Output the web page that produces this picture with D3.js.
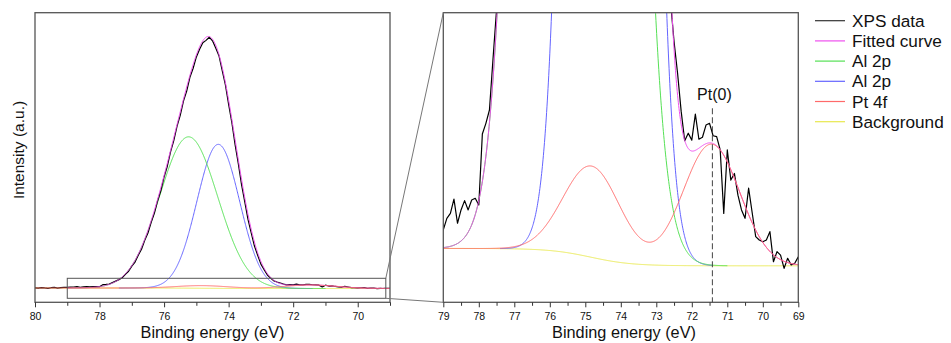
<!DOCTYPE html>
<html>
<head>
<meta charset="utf-8">
<script src="https://cdn.jsdelivr.net/npm/d3@7"></script>
<style>
  html, body { margin: 0; padding: 0; background: #fff; }
  svg { display: block; font-family: "Liberation Sans", Arial, Helvetica, sans-serif; }
</style>
</head>
<body>
<svg id="chart" width="951" height="343"></svg>
<script>
// Al 2p / Pt 4f XPS region: measured spectrum (eV, counts)
const bindingEnergy = [
  80.0,79.9,79.8,79.7,79.6,79.5,79.4,79.3,79.2,79.1,
  79.0,78.9,78.8,78.7,78.6,78.5,78.4,78.3,78.2,78.1,
  78.0,77.9,77.8,77.7,77.6,77.5,77.4,77.3,77.2,77.1,
  77.0,76.9,76.8,76.7,76.6,76.5,76.4,76.3,76.2,76.1,
  76.0,75.9,75.8,75.7,75.6,75.5,75.4,75.3,75.2,75.1,
  75.0,74.9,74.8,74.7,74.6,74.5,74.4,74.3,74.2,74.1,
  74.0,73.9,73.8,73.7,73.6,73.5,73.4,73.3,73.2,73.1,
  73.0,72.9,72.8,72.7,72.6,72.5,72.4,72.3,72.2,72.1,
  72.0,71.9,71.8,71.7,71.6,71.5,71.4,71.3,71.2,71.1,
  71.0,70.9,70.8,70.7,70.6,70.5,70.4,70.3,70.2,70.1,
  70.0,69.9,69.8,69.7,69.6,69.5,69.4,69.3,69.2,69.1,
  69.0
];
const xpsCounts = [
  20,17,24,19,15,22,27,18,23,26,
  25.0,29.0,30.7,35.6,27.3,31.9,35.1,31.9,35.3,35.9,
  33.6,58.1,61.8,66.4,84,101,119,141,183,219,
  281,330,412,483,590,679,808,917,1066,1188,
  1351,1480,1652,1786,1958,2090,2262,2381,2547,2655,
  2791,2884,2962,2990,3028,2985,2899,2806,2630,2457,
  2221,2004,1739,1510,1258,1053,842,681,522,412,
  305,239,175,139,104,90,79,66,55.8,58.4,
  56,65.0,56.3,57,61.2,61.8,57.5,57.2,52.6,30.7,
  52.6,42.2,44.5,37,31.9,29.0,39.4,31,22.7,21.5,
  20.9,21.5,24.4,14.0,17.5,16.3,11.7,15.2,12.9,13.5,
  15.7
];

// Fitted Gaussian components: centre (eV), height, FWHM (eV)
const alCenters = [75.24, 74.32];
const alHeights = [1816, 1728];
const alFwhm = [2.12, 1.555];
const alRanges = [[79.0, 71.0], [77.4, 71.4]];
const ptCenters = [71.45, 74.82];
const ptHeights = [42, 31.5];
const ptFwhm = [1.88, 1.88];
const fitRange = [79.0, 69.0];

// Shirley-type step background: low / high BE level, midpoint, step width
const bgLevels = [12.6, 18.6];
const bgMid = 74.85;
const bgStep = 0.58;

// Axes
const leftMajorTicks = [80, 78, 76, 74, 72, 70];
const leftMinorTicks = [79, 77, 75, 73, 71, 69];
const rightMajorTicks = [79, 78, 77, 76, 75, 74, 73, 72, 71, 70, 69];
const rightMinorTicks = [78.5, 77.5, 76.5, 75.5, 74.5, 73.5, 72.5, 71.5, 70.5, 69.5];
const leftEnergyDomain = [80, 69];
const leftIntensityDomain = [-153, 3322];
const rightEnergyDomain = [79, 69];
const rightIntensityDomain = [0, 100];
const zoomEnergy = [79, 69.13];
const zoomIntensity = [-105, 135];

// Pt(0) marker
const ptMarkerEnergy = 71.42;
const ptMarkerTop = 67;
const ptMarkerText = "Pt(0)";

// Legend
const legendLabels = ["XPS data", "Fitted curve", "Al 2p", "Al 2p", "Pt 4f", "Background"];
const legendColors = ["#000000", "#ee4fee", "#55e055", "#6464ff", "#ff6a6a", "#e8e84e"];

const xTitle = "Binding energy (eV)";
const yTitle = "Intensity (a.u.)";

// ---------- line-shape model ----------
const gaussian = (x, c, h, w) => {
  const t = (x - c) / w;
  return h * Math.exp(-4 * Math.LN2 * t * t);
};
const background = x => bgLevels[0] + (bgLevels[1] - bgLevels[0]) / (1 + Math.exp(-(x - bgMid) / bgStep));
const alPeak = (i, x) => gaussian(x, alCenters[i], alHeights[i], alFwhm[i]);
const ptSum = x => ptCenters.reduce((s, c, i) => s + gaussian(x, c, ptHeights[i], ptFwhm[i]), 0);

const grid = (hi, lo) => d3.range(hi, lo - 1e-9, -0.01);
const fullGrid = grid(80, 69);

const curves = {
  background: fullGrid.map(x => [x, background(x)]),
  al1: grid(alRanges[0][0], alRanges[0][1]).map(x => [x, background(x) + alPeak(0, x)]),
  al2: grid(alRanges[1][0], alRanges[1][1]).map(x => [x, background(x) + alPeak(1, x)]),
  pt: fullGrid.map(x => [x, background(x) + ptSum(x)]),
  fit: grid(fitRange[0], fitRange[1]).map(x => [x, background(x) + alPeak(0, x) + alPeak(1, x) + ptSum(x)])
};
const dataPoints = bindingEnergy.map((e, i) => [e, xpsCounts[i]]);

// ---------- layout ----------
const svg = d3.select("#chart");
const axisY = 302.3, topY = 12.7;
const xL = d3.scaleLinear().domain(leftEnergyDomain).range([35, 390]);
const yL = d3.scaleLinear().domain(leftIntensityDomain).range([axisY, topY]);
const xR = d3.scaleLinear().domain(rightEnergyDomain).range([443.3, 798.3]);
const yR = d3.scaleLinear().domain(rightIntensityDomain).range([axisY, topY]);

const defs = svg.append("defs");
function addClip(id, x0, x1) {
  defs.append("clipPath").attr("id", id).append("rect")
    .attr("x", x0).attr("y", topY).attr("width", x1 - x0).attr("height", axisY - topY);
}
addClip("clipL", 35, 390);
addClip("clipR", 443.3, 798.3);

function drawPanel(xs, ys, clipId, majorTicks, minorTicks) {
  const g = svg.append("g");
  const plot = g.append("g").attr("clip-path", `url(#${clipId})`);
  const line = d3.line().x(d => xs(d[0])).y(d => ys(d[1]));
  const trace = (pts, color, width) => plot.append("path").datum(pts).attr("d", line)
    .attr("fill", "none").attr("stroke", color).attr("stroke-width", width)
    .attr("stroke-linejoin", "round");

  trace(curves.background, legendColors[5], 1);
  trace(curves.al2, legendColors[3], 1);
  trace(curves.al1, legendColors[2], 1);
  trace(dataPoints, legendColors[0], 1.2);
  trace(curves.fit, legendColors[1], 1);
  trace(curves.pt, legendColors[4], 1);

  const [x0, x1] = xs.range();
  g.append("rect").attr("x", x0).attr("y", topY).attr("width", x1 - x0).attr("height", axisY - topY)
    .attr("fill", "none").attr("stroke", "#555").attr("stroke-width", 1.3);

  const major = g.append("g").attr("transform", `translate(0,${axisY})`)
    .call(d3.axisBottom(xs).tickValues(majorTicks).tickSize(5).tickPadding(5).tickFormat(d3.format("d")));
  major.select(".domain").remove();
  major.selectAll("line").attr("stroke", "#333");
  major.selectAll("text").attr("font-size", 10.5).attr("fill", "#111")
    .attr("font-family", "'Liberation Sans', Arial, sans-serif");
  const minor = g.append("g").attr("transform", `translate(0,${axisY})`)
    .call(d3.axisBottom(xs).tickValues(minorTicks).tickSize(3.5).tickFormat(""));
  minor.select(".domain").remove();
  minor.selectAll("line").attr("stroke", "#333");
  return g;
}

drawPanel(xL, yL, "clipL", leftMajorTicks, leftMinorTicks);
drawPanel(xR, yR, "clipR", rightMajorTicks, rightMinorTicks);

// zoom region on the overview and its connectors
svg.append("rect")
  .attr("x", xL(zoomEnergy[0])).attr("y", yL(zoomIntensity[1]))
  .attr("width", xL(zoomEnergy[1]) - xL(zoomEnergy[0]))
  .attr("height", yL(zoomIntensity[0]) - yL(zoomIntensity[1]))
  .attr("fill", "none").attr("stroke", "#555").attr("stroke-width", 1);
svg.append("line")
  .attr("x1", xL(zoomEnergy[1])).attr("y1", yL(zoomIntensity[1]))
  .attr("x2", xR(rightEnergyDomain[0])).attr("y2", yR(rightIntensityDomain[1]))
  .attr("stroke", "#777").attr("stroke-width", 1);
svg.append("line")
  .attr("x1", xL(zoomEnergy[1])).attr("y1", yL(zoomIntensity[0]))
  .attr("x2", xR(rightEnergyDomain[0])).attr("y2", yR(rightIntensityDomain[0]))
  .attr("stroke", "#777").attr("stroke-width", 1);

// Pt(0) position
svg.append("line")
  .attr("x1", xR(ptMarkerEnergy)).attr("x2", xR(ptMarkerEnergy))
  .attr("y1", yR(ptMarkerTop)).attr("y2", yR(0))
  .attr("stroke", "#444").attr("stroke-width", 1).attr("stroke-dasharray", "6,3");
svg.append("text")
  .attr("x", xR(ptMarkerEnergy) + 2).attr("y", yR(ptMarkerTop) - 8)
  .attr("text-anchor", "middle").attr("font-size", 16).attr("fill", "#111")
  .text(ptMarkerText);

// axis titles
svg.append("text").attr("x", 212.5).attr("y", 337.5).attr("text-anchor", "middle")
  .attr("font-size", 16.3).attr("fill", "#111").text(xTitle);
svg.append("text").attr("x", 624).attr("y", 337.5).attr("text-anchor", "middle")
  .attr("font-size", 16.3).attr("fill", "#111").text(xTitle);
svg.append("text").attr("transform", "translate(24,150) rotate(-90)").attr("text-anchor", "middle")
  .attr("font-size", 15.5).attr("fill", "#111").text(yTitle);

// legend
const legend = svg.append("g");
legendLabels.forEach((label, i) => {
  const y = 20.7 + i * 20.2;
  legend.append("line").attr("x1", 815).attr("x2", 845).attr("y1", y).attr("y2", y)
    .attr("stroke", i === 0 ? "#333" : legendColors[i]).attr("stroke-width", 1.2);
  legend.append("text").attr("x", 852).attr("y", y + 6).attr("font-size", 17.2).attr("fill", "#111").text(label);
});
</script>
</body>
</html>
